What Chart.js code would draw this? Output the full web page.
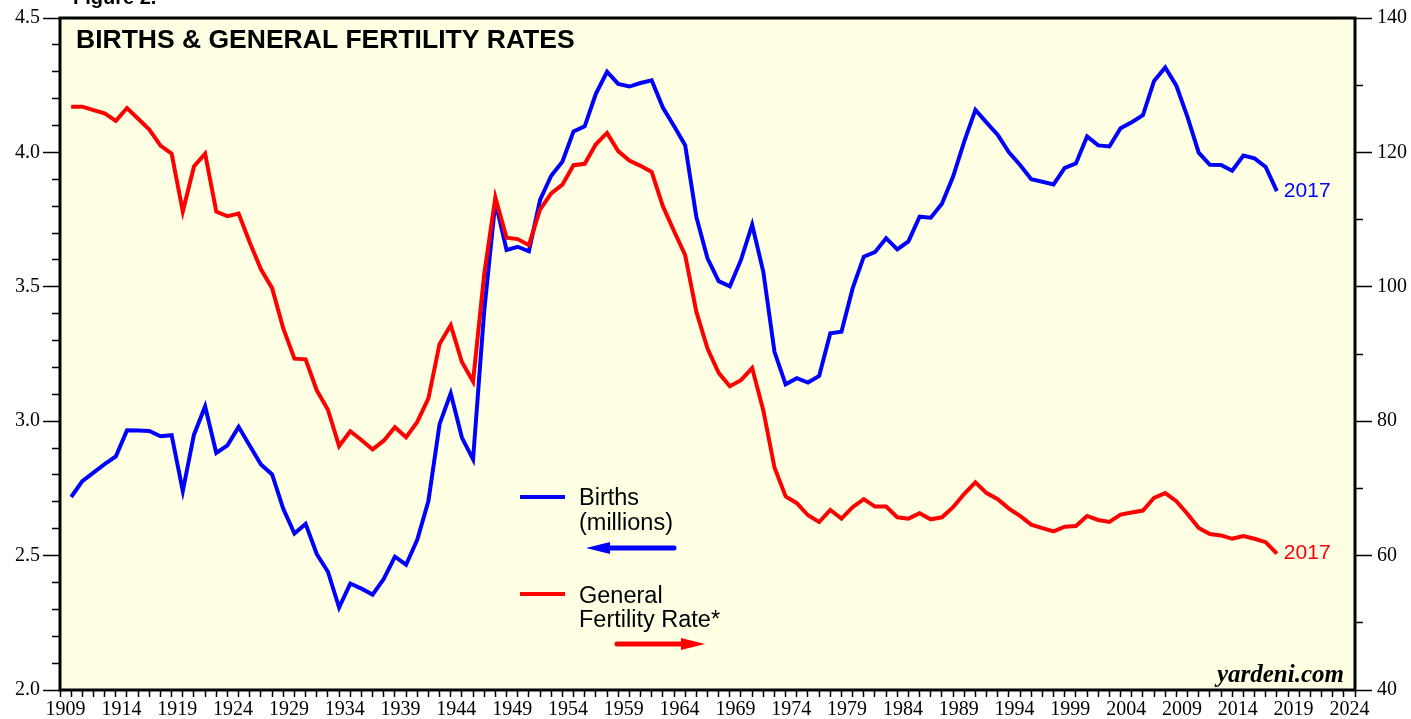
<!DOCTYPE html>
<html>
<head>
<meta charset="utf-8">
<title>Births & General Fertility Rates</title>
<script src="https://cdn.jsdelivr.net/npm/chart.js@4.4.1/dist/chart.umd.min.js"></script>
<style>
  html, body { margin: 0; padding: 0; background: #fff; }
</style>
</head>
<body>
<canvas id="birthsChart" width="1411" height="719"></canvas>
<script>
const firstYear = 1909;

// US births, millions (left axis)
const births = [
    2.718,
    2.777, 2.809, 2.840, 2.869, 2.966, 2.965, 2.964, 2.944, 2.948, 2.740,
    2.950, 3.055, 2.882, 2.910, 2.979, 2.909, 2.839, 2.802, 2.674, 2.582,
    2.618, 2.506, 2.440, 2.307, 2.396, 2.377, 2.355, 2.413, 2.496, 2.466,
    2.559, 2.703, 2.989, 3.104, 2.939, 2.858, 3.411, 3.817, 3.637, 3.649,
    3.632, 3.823, 3.913, 3.965, 4.078, 4.097, 4.218, 4.300, 4.255, 4.245,
    4.258, 4.268, 4.167, 4.098, 4.027, 3.760, 3.606, 3.521, 3.502, 3.600,
    3.731, 3.556, 3.258, 3.137, 3.160, 3.144, 3.168, 3.327, 3.333, 3.494,
    3.612, 3.629, 3.681, 3.639, 3.669, 3.761, 3.757, 3.809, 3.910, 4.041,
    4.158, 4.111, 4.065, 4.000, 3.953, 3.900, 3.891, 3.881, 3.942, 3.959,
    4.059, 4.026, 4.022, 4.090, 4.112, 4.138, 4.266, 4.316, 4.248, 4.131,
    3.999, 3.954, 3.953, 3.932, 3.988, 3.978, 3.946, 3.856
];

// general fertility rate (right axis)
const gfr = [
    126.8,
    126.8, 126.3, 125.8, 124.7, 126.6, 125.0, 123.4, 121.0, 119.8, 111.2,
    117.9, 119.8, 111.2, 110.5, 110.9, 106.6, 102.6, 99.8, 93.8, 89.3,
    89.2, 84.6, 81.7, 76.3, 78.5, 77.2, 75.8, 77.1, 79.1, 77.6,
    79.9, 83.4, 91.5, 94.3, 88.8, 85.9, 101.9, 113.3, 107.3, 107.1,
    106.2, 111.5, 113.9, 115.2, 118.1, 118.3, 121.2, 122.9, 120.2, 118.8,
    118.0, 117.1, 112.0, 108.3, 104.7, 96.3, 90.8, 87.2, 85.2, 86.1,
    87.9, 81.6, 73.1, 68.8, 67.8, 66.0, 65.0, 66.8, 65.5, 67.2,
    68.4, 67.3, 67.3, 65.7, 65.5, 66.3, 65.4, 65.7, 67.2, 69.2,
    70.9, 69.3, 68.4, 67.0, 65.9, 64.6, 64.1, 63.6, 64.3, 64.4,
    65.9, 65.3, 65.0, 66.1, 66.4, 66.7, 68.6, 69.3, 68.1, 66.2,
    64.1, 63.2, 63.0, 62.5, 62.9, 62.5, 62.0, 60.3
];

const years = births.map((_, i) => firstYear + i);

const yearLabels = [1909, 1914, 1919, 1924, 1929, 1934, 1939, 1944, 1949, 1954, 1959, 1964,
    1969, 1974, 1979, 1984, 1989, 1994, 1999, 2004, 2009, 2014, 2019, 2024];
const birthTicks = [2.0, 2.5, 3.0, 3.5, 4.0, 4.5];
const gfrTicks = [40, 60, 80, 100, 120, 140];

const serif = "'Liberation Serif', 'Times New Roman', serif";
const sans = "'Liberation Sans', Arial, sans-serif";

// annual values are plotted at the end of their year
const toPoints = arr => arr.map((v, i) => ({ x: years[i] + 1, y: v }));

const frame = {
    id: 'frame',
    beforeDraw(chart) {
        const { ctx, chartArea: a } = chart;
        ctx.save();
        ctx.fillStyle = '#fff';
        ctx.fillRect(0, 0, chart.width, chart.height);
        ctx.fillStyle = '#ffffe4';
        ctx.fillRect(a.left, a.top, a.right - a.left, a.bottom - a.top);
        ctx.restore();
    },
    afterDraw(chart) {
        const { ctx, chartArea: a } = chart;
        ctx.save();
        ctx.strokeStyle = '#000';
        ctx.lineWidth = 3;
        ctx.strokeRect(a.left, a.top, a.right - a.left, a.bottom - a.top);

        ctx.fillStyle = '#000';
        ctx.textBaseline = 'alphabetic';
        ctx.textAlign = 'left';
        ctx.font = 'bold 20px ' + sans;
        ctx.fillText('Figure 2.', 73, 4);
        ctx.font = 'bold 26.5px ' + sans;
        ctx.fillText('BIRTHS & GENERAL FERTILITY RATES', 76, 48);

        ctx.textAlign = 'right';
        ctx.font = 'italic bold 25px ' + serif;
        ctx.fillText('yardeni.com', a.right - 11, a.bottom - 8);

        // end labels
        ctx.textAlign = 'left';
        ctx.textBaseline = 'middle';
        ctx.font = '21px ' + sans;
        chart.data.datasets.forEach((ds, i) => {
            const pts = chart.getDatasetMeta(i).data;
            const last = pts[pts.length - 1];
            ctx.fillStyle = ds.borderColor;
            ctx.fillText(String(years[years.length - 1]), last.x + 7, last.y);
        });

        // legend
        const arrow = (x1, x2, y, color) => {
            const dir = Math.sign(x2 - x1);
            ctx.strokeStyle = color;
            ctx.fillStyle = color;
            ctx.lineWidth = 5;
            ctx.lineCap = 'round';
            ctx.beginPath();
            ctx.moveTo(x1, y);
            ctx.lineTo(x2 - dir * 20, y);
            ctx.stroke();
            ctx.beginPath();
            ctx.moveTo(x2, y);
            ctx.lineTo(x2 - dir * 24, y - 6);
            ctx.lineTo(x2 - dir * 24, y + 6);
            ctx.closePath();
            ctx.fill();
        };
        ctx.lineCap = 'butt';
        ctx.textBaseline = 'alphabetic';
        ctx.font = '23.5px ' + sans;

        ctx.strokeStyle = '#0000ff';
        ctx.lineWidth = 4;
        ctx.beginPath(); ctx.moveTo(520, 497); ctx.lineTo(565, 497); ctx.stroke();
        ctx.fillStyle = '#000';
        ctx.fillText('Births', 579, 505);
        ctx.fillText('(millions)', 579, 530);
        arrow(674, 586, 548, '#0000ff');

        ctx.lineCap = 'butt';
        ctx.strokeStyle = '#ff0000';
        ctx.lineWidth = 4;
        ctx.beginPath(); ctx.moveTo(520, 594); ctx.lineTo(565, 594); ctx.stroke();
        ctx.fillStyle = '#000';
        ctx.fillText('General', 579, 603);
        ctx.fillText('Fertility Rate*', 579, 627);
        arrow(617, 705, 644, '#ff0000');

        ctx.restore();
    }
};

new Chart(document.getElementById('birthsChart'), {
    type: 'line',
    data: {
        datasets: [
            {
                label: 'Births (millions)',
                data: toPoints(births),
                yAxisID: 'yBirths',
                borderColor: '#0000ff',
                borderWidth: 4,
                pointRadius: 0,
                tension: 0,
                order: 1
            },
            {
                label: 'General Fertility Rate*',
                data: toPoints(gfr),
                yAxisID: 'yGfr',
                borderColor: '#ff0000',
                borderWidth: 4,
                pointRadius: 0,
                tension: 0,
                order: 0
            }
        ]
    },
    options: {
        responsive: false,
        animation: false,
        devicePixelRatio: 1,
        layout: { padding: { top: 18 } },
        plugins: {
            legend: { display: false },
            tooltip: { enabled: false },
            title: { display: false }
        },
        scales: {
            x: {
                type: 'linear',
                min: firstYear,
                max: 2025,
                afterBuildTicks: s => {
                    s.ticks = [];
                    for (let y = s.min; y <= s.max; y++) s.ticks.push({ value: y });
                },
                afterFit: s => { s.height = 29; },
                border: { display: false },
                grid: {
                    drawOnChartArea: false,
                    tickLength: 7,
                    tickWidth: 1.5,
                    tickColor: '#000'
                },
                ticks: {
                    autoSkip: false,
                    maxRotation: 0,
                    minRotation: 0,
                    labelOffset: 5.6,
                    padding: 1,
                    color: '#000',
                    font: { family: serif, size: 20 },
                    callback: v => yearLabels.includes(v) ? String(v) : ''
                }
            },
            yBirths: {
                position: 'left',
                min: 2,
                max: 4.5,
                afterBuildTicks: s => {
                    s.ticks = [];
                    for (let k = 20; k <= 45; k++) s.ticks.push({ value: k / 10 });
                },
                afterFit: s => { s.width = 60; },
                border: { display: false },
                grid: {
                    drawOnChartArea: false,
                    tickLength: 17,
                    tickWidth: 1.5,
                    tickColor: '#000',
                    tickBorderDash: c => birthTicks.includes(c.tick.value) ? [] : [0, 9, 20]
                },
                ticks: {
                    autoSkip: false,
                    padding: 3,
                    color: '#000',
                    font: { family: serif, size: 20 },
                    callback: v => birthTicks.includes(v) ? v.toFixed(1) : ''
                }
            },
            yGfr: {
                position: 'right',
                min: 40,
                max: 140,
                afterBuildTicks: s => {
                    s.ticks = [];
                    for (let v = 40; v <= 140; v += 10) s.ticks.push({ value: v });
                },
                afterFit: s => { s.width = 56; },
                border: { display: false },
                grid: {
                    drawOnChartArea: false,
                    tickLength: 17,
                    tickWidth: 1.5,
                    tickColor: '#000',
                    tickBorderDash: c => gfrTicks.includes(c.tick.value) ? [] : [8, 100]
                },
                ticks: {
                    autoSkip: false,
                    padding: 5,
                    color: '#000',
                    font: { family: serif, size: 20 },
                    callback: v => gfrTicks.includes(v) ? String(v) : ''
                }
            }
        }
    },
    plugins: [frame]
});
</script>
</body>
</html>
